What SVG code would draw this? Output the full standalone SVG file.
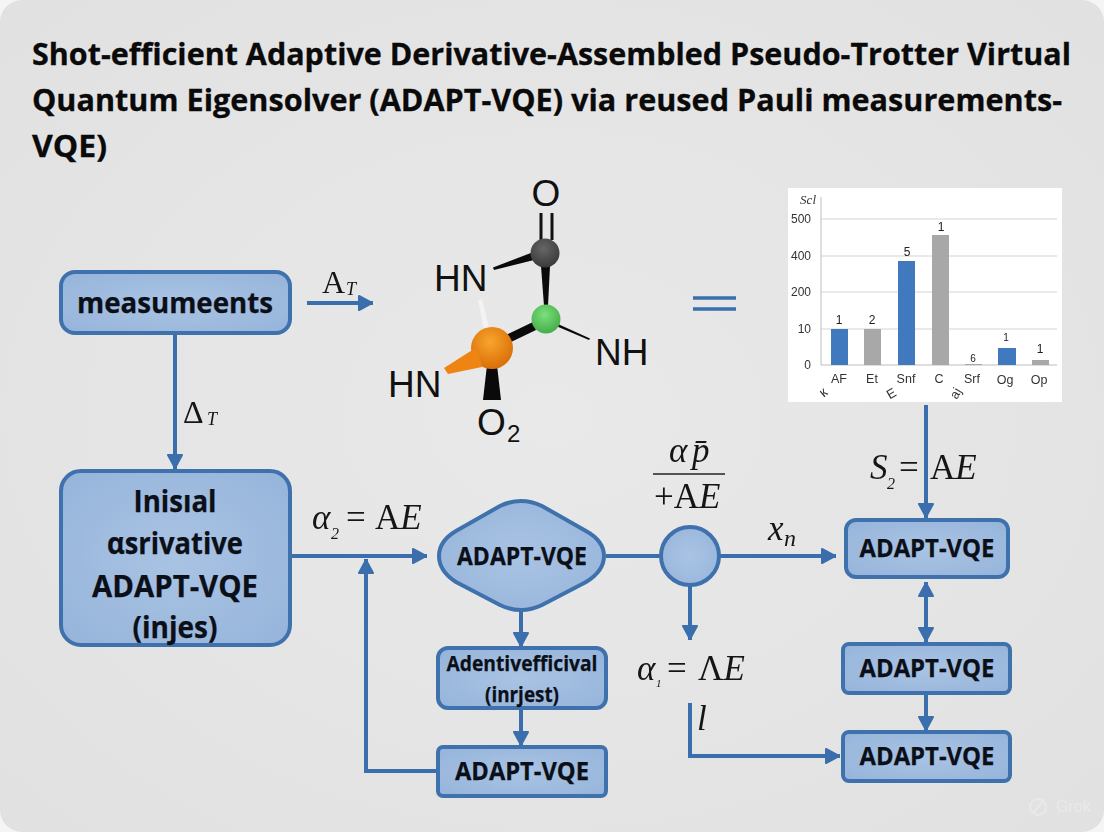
<svg xmlns="http://www.w3.org/2000/svg" width="1104" height="832" viewBox="0 0 1104 832">
<style>
.t{font-family:"Open Sans","Liberation Sans",sans-serif;font-weight:700;fill:#0b0f18;text-anchor:middle;stroke:#0b0f18;stroke-width:.25px}
.title{font-family:"Open Sans","Liberation Sans",sans-serif;font-weight:700;font-size:31px;fill:#0a0a0a;stroke:#0a0a0a;stroke-width:.3px}
.n{fill:url(#nf);stroke:#3f72ad;stroke-width:4}
.c{fill:none;stroke:#3b6eac;stroke-width:4}
.m{font-family:"Liberation Serif",serif;font-size:35px;fill:#151515}
.i{font-style:italic}
.s{font-family:"Liberation Serif",serif;font-style:italic;fill:#151515}
.a{font-family:"Liberation Sans",sans-serif;font-size:37px;fill:#111}
.g{stroke:#d4d4d4;stroke-width:1}
.cl{font-family:"Liberation Sans",sans-serif;font-size:12.500px;fill:#333;text-anchor:middle}
.cv{font-family:"Liberation Sans",sans-serif;font-size:12px;fill:#222;text-anchor:middle}
.cy{font-family:"Liberation Sans",sans-serif;font-size:12px;fill:#333;text-anchor:end}
</style>
<defs>
<marker id="ah" markerUnits="userSpaceOnUse" markerWidth="22" markerHeight="22" refX="16" refY="10" orient="auto-start-reverse"><path d="M2 3L15 10L2 17Z" fill="#3b6eac" stroke="#3b6eac" stroke-width="2" stroke-linejoin="round"/></marker>
<radialGradient id="bg" cx="50%" cy="50%" r="70%"><stop offset="0" stop-color="#e9e9e9"/><stop offset="1" stop-color="#e1e1e1"/></radialGradient>
<radialGradient id="nf" cx="50%" cy="50%" r="75%"><stop offset="0" stop-color="#a9c3e3"/><stop offset="1" stop-color="#94b3da"/></radialGradient>
<radialGradient id="bo" cx="45%" cy="35%" r="65%"><stop offset="0" stop-color="#f8a52c"/><stop offset="1" stop-color="#d96e08"/></radialGradient>
<radialGradient id="bg2" cx="45%" cy="35%" r="65%"><stop offset="0" stop-color="#7be07a"/><stop offset="1" stop-color="#46ad4c"/></radialGradient>
<radialGradient id="bd" cx="45%" cy="35%" r="65%"><stop offset="0" stop-color="#666"/><stop offset="1" stop-color="#3a3a3c"/></radialGradient>
<filter id="soft" x="0" y="0" width="100%" height="100%"><feGaussianBlur stdDeviation=".35"/></filter>
</defs>
<rect width="1104" height="832" fill="#f5f5f5"/>
<rect width="1104" height="832" rx="22" fill="url(#bg)"/>
<g id="title">
<text class="title" x="32" y="65" textLength="1039" lengthAdjust="spacingAndGlyphs">Shot-efficient Adaptive Derivative-Assembled Pseudo-Trotter Virtual</text>
<text class="title" x="32" y="111" textLength="1030" lengthAdjust="spacingAndGlyphs">Quantum Eigensolver (ADAPT-VQE) via reused Pauli measurements-</text>
<text class="title" x="32" y="157" textLength="75" lengthAdjust="spacingAndGlyphs">VQE)</text>
</g>
<g id="connectors">
<path class="c" marker-end="url(#ah)" d="M175 334V469"/>
<path class="c" marker-end="url(#ah)" d="M307 303H373"/>
<path class="c" marker-end="url(#ah)" d="M291 556H427"/>
<path class="c" marker-end="url(#ah)" d="M437 771H366V559"/>
<path class="c" d="M606 556H661"/>
<path class="c" marker-end="url(#ah)" d="M719 556H836"/>
<path class="c" marker-end="url(#ah)" d="M690 585V640"/>
<path class="c" marker-end="url(#ah)" d="M690 703V756H840"/>
<path class="c" marker-end="url(#ah)" d="M521 611V647"/>
<path class="c" marker-end="url(#ah)" d="M521 708V746"/>
<path class="c" marker-end="url(#ah)" d="M926 405V518"/>
<path class="c" marker-start="url(#ah)" marker-end="url(#ah)" d="M926 582V642"/>
<path class="c" marker-end="url(#ah)" d="M926 694V731"/>
</g>
<g id="node-measurements"><rect class="n" x="61" y="272" width="229" height="61" rx="14"/><text class="t" x="175" y="313" font-size="28" textLength="196" lengthAdjust="spacingAndGlyphs">measumeents</text></g>
<g id="node-initial"><rect class="n" x="61" y="471" width="229" height="174" rx="20"/>
<text class="t" x="175" y="512" font-size="30" textLength="83" lengthAdjust="spacingAndGlyphs">Inisıal</text>
<text class="t" x="175" y="554" font-size="30" textLength="136" lengthAdjust="spacingAndGlyphs">αsrivative</text>
<text class="t" x="175" y="597" font-size="30" textLength="166" lengthAdjust="spacingAndGlyphs">ADAPT-VQE</text>
<text class="t" x="175" y="638" font-size="30" textLength="85" lengthAdjust="spacingAndGlyphs">(injes)</text></g>
<g id="node-hex"><path class="n" d="M439 556Q439 541 456 531L500 506Q521 496 542 506L586 531Q604 541 604 556Q604 571 586 582L542 605Q521 615 500 605L456 582Q439 571 439 556Z"/><text class="t" x="522" y="565" font-size="25" textLength="130" lengthAdjust="spacingAndGlyphs">ADAPT-VQE</text></g>
<g id="node-circle"><circle class="n" cx="690" cy="556" r="29"/></g>
<g id="node-adentive"><rect class="n" x="438" y="648" width="168" height="60" rx="10"/>
<text class="t" x="522" y="671" font-size="22" textLength="151" lengthAdjust="spacingAndGlyphs">Adentivefficival</text>
<text class="t" x="522" y="702" font-size="22" textLength="74" lengthAdjust="spacingAndGlyphs">(inrjest)</text></g>
<g id="node-bottom"><rect class="n" x="438" y="747" width="168" height="49" rx="5"/><text class="t" x="522" y="780" font-size="25" textLength="134" lengthAdjust="spacingAndGlyphs">ADAPT-VQE</text></g>
<g id="node-r1"><rect class="n" x="846" y="520" width="162" height="57" rx="10"/><text class="t" x="927" y="557" font-size="25" textLength="135" lengthAdjust="spacingAndGlyphs">ADAPT-VQE</text></g>
<g id="node-r2"><rect class="n" x="843" y="644" width="167" height="49" rx="6"/><text class="t" x="927" y="677" font-size="25" textLength="135" lengthAdjust="spacingAndGlyphs">ADAPT-VQE</text></g>
<g id="node-r3"><rect class="n" x="843" y="732" width="167" height="49" rx="6"/><text class="t" x="927" y="765" font-size="25" textLength="135" lengthAdjust="spacingAndGlyphs">ADAPT-VQE</text></g>
<g id="molecule">
<path d="M541 213V240M552 213V240" stroke="#111" stroke-width="3" fill="none"/>
<path d="M478 300L482 299L489 328L484 330Z" fill="#f3f3f3"/>
<path d="M493 267.500L494 270L538 259L536 251Z" fill="#0a0a0a"/>
<path d="M541 266H550L548 306H544Z" fill="#0a0a0a"/>
<path d="M506 335L533 322L536 330L511 342Z" fill="#0a0a0a"/>
<path d="M558 324L590 338.500L589 340L556 326Z" fill="#0a0a0a"/>
<path d="M487 365H497L501 400H483Z" fill="#0a0a0a"/>
<circle cx="545" cy="253" r="14.500" fill="url(#bd)"/>
<circle cx="546" cy="319" r="14.500" fill="url(#bg2)"/>
<circle cx="492" cy="348" r="21" fill="url(#bo)"/>
<path d="M444 368L448 374L482 367L477 347Z" fill="#ee8412"/>
<text class="a" x="546" y="206" text-anchor="middle">O</text>
<text class="a" x="434" y="291">HN</text>
<text class="a" x="595" y="365">NH</text>
<text class="a" x="388" y="397">HN</text>
<text class="a" x="477" y="435">O</text>
<text class="a" x="507" y="442" style="font-size:24px">2</text>
</g>
<path id="equals" d="M693 298H736M693 309H736" stroke="#3b6eac" stroke-width="3.500" fill="none"/>
<g id="chart" filter="url(#soft)">
<rect x="788" y="188" width="274" height="214" fill="#fff"/>
<path class="g" d="M821 219H1057M821 256H1057M821 292H1057M821 329H1057"/>
<path d="M821 197V365M821 365H1057" stroke="#bdbdbd" stroke-width="1" fill="none"/>
<rect x="831" y="329" width="17" height="36" fill="#3f79bd"/>
<rect x="864" y="329" width="17" height="36" fill="#a8a8a8"/>
<rect x="898" y="261" width="17" height="104" fill="#3f79bd"/>
<rect x="932" y="235" width="17" height="130" fill="#a8a8a8"/>
<rect x="965" y="364" width="17" height="1" fill="#a8a8a8"/>
<rect x="998" y="348" width="18" height="17" fill="#3f79bd"/>
<rect x="1032" y="360" width="17" height="5" fill="#a8a8a8"/>
<text x="816" y="204" text-anchor="end" font-family="'Liberation Serif',serif" font-style="italic" font-size="13" fill="#333">Scl</text>
<text class="cy" x="811" y="223">500</text>
<text class="cy" x="811" y="260">400</text>
<text class="cy" x="811" y="296">200</text>
<text class="cy" x="811" y="333">10</text>
<text class="cy" x="811" y="369">0</text>
<text class="cv" x="839" y="324">1</text><text class="cv" x="872" y="324">2</text><text class="cv" x="907" y="256">5</text><text class="cv" x="941" y="231">1</text><text class="cv" x="973" y="362" style="font-size:10px">6</text><text class="cv" x="1006" y="341" style="font-size:10px">1</text><text class="cv" x="1040" y="353">1</text>
<text class="cl" x="839" y="383">AF</text><text class="cl" x="872" y="383">Et</text><text class="cl" x="906" y="383">Snf</text><text class="cl" x="939" y="383">C</text><text class="cl" x="972" y="383">Srf</text><text class="cl" x="1005" y="384">Og</text><text class="cl" x="1039" y="384">Op</text>
<text class="cl" x="823" y="397" transform="rotate(-40 823 392)" style="font-size:14px">к</text><text class="cl" x="891" y="398" transform="rotate(-30 891 393)" style="font-size:13px">E</text><text class="cl" x="955" y="398" transform="rotate(-60 955 393)" style="font-size:13px">aj</text>
</g>
<g id="labels">
<text class="m" x="322" y="293" style="font-size:32px">A</text><text class="s" x="346" y="295" font-size="18">T</text>
<text class="m" x="183" y="423" style="font-size:32px">Δ</text><text class="s" x="207" y="425" font-size="18">T</text>
<text class="m i" x="312" y="529">α</text><text class="s" x="331" y="539" font-size="16">2</text><text class="m" x="346" y="529">=</text><text class="m" x="375" y="529">A<tspan class="i">E</tspan></text>
<text class="m i" x="669" y="462">α</text><text class="m i" x="692" y="462">p̄</text>
<path d="M653 474H725" stroke="#222" stroke-width="1.500"/>
<text class="m" x="654" y="508">+A<tspan class="i">E</tspan></text>
<text class="m i" x="768" y="540">x</text><text class="s" x="784" y="546" font-size="24">n</text>
<text class="m i" x="637" y="680">α</text><text class="s" x="656" y="687" font-size="11">1</text><text class="m" x="667" y="680">=</text><text class="m" x="698" y="680">Λ<tspan class="i">E</tspan></text>
<text class="m i" x="697" y="730">l</text>
<text class="m i" x="870" y="479">S</text><text class="s" x="887" y="489" font-size="16">2</text><text class="m" x="899" y="479">=</text><text class="m" x="930" y="479">A<tspan class="i">E</tspan></text>
</g>
<g id="watermark" fill="none" stroke="#e9e9e9" stroke-width="2"><circle cx="1038" cy="807" r="8"/><path d="M1033 813L1044 800"/>
<text x="1056" y="812" font-family="'Liberation Sans',sans-serif" font-size="16" fill="#e9e9e9" stroke="none">Grok</text></g>
</svg>
